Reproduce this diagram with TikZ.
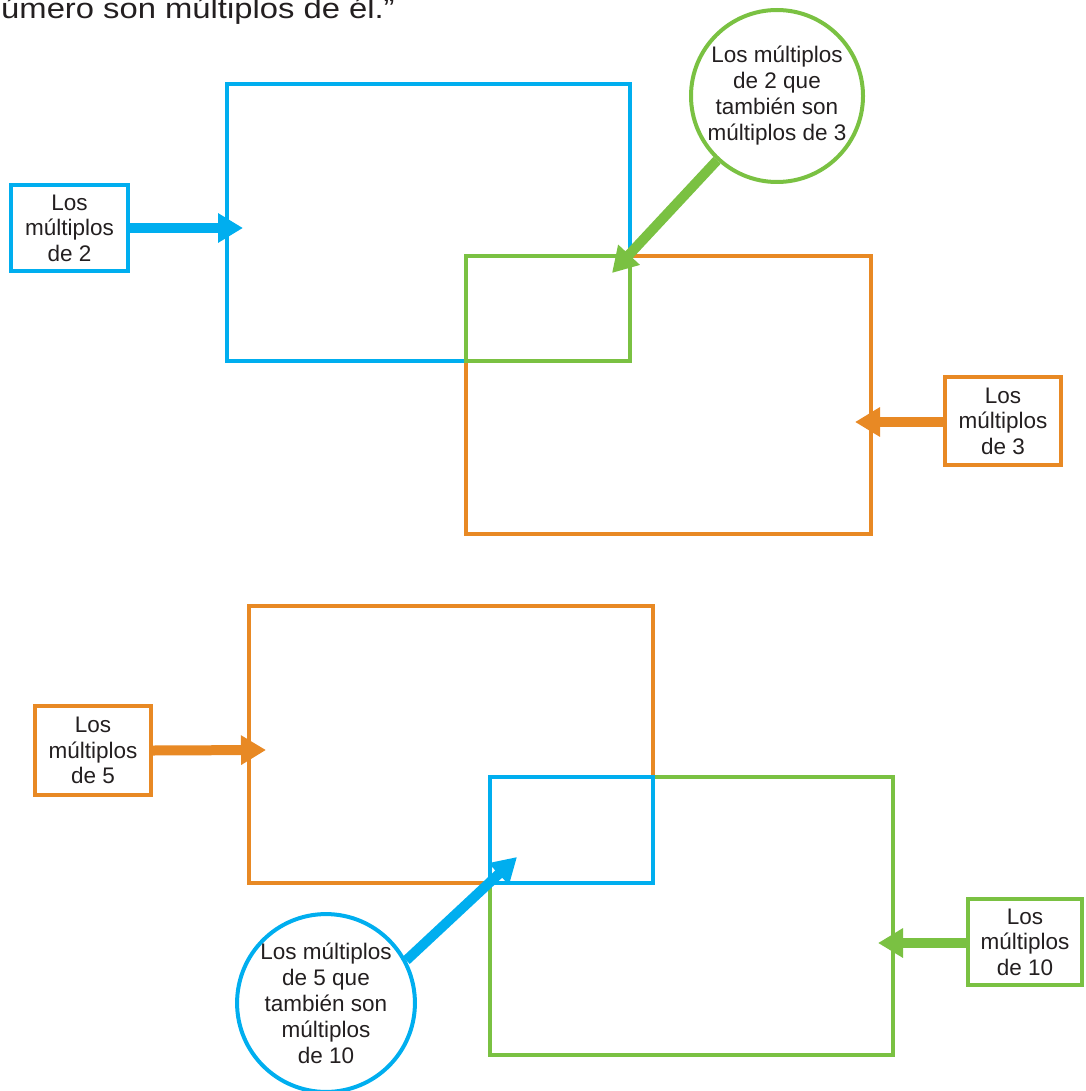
\documentclass[tikz,border=0pt]{standalone}
\usepackage{fontspec}
\setmainfont{Liberation Sans}
\usetikzlibrary{arrows.meta}
\definecolor{cblue}{RGB}{0,174,239}
\definecolor{cgreen}{RGB}{122,193,66}
\definecolor{corange}{RGB}{232,137,36}
\definecolor{ctext}{RGB}{35,31,32}
\begin{document}
\begin{tikzpicture}[x=1pt,y=-1pt,
  bigrect/.style={line width=4pt},
  lbox/.style={draw=#1, line width=4pt, inner sep=0pt, align=center, text=ctext,
     font=\fontsize{22.5}{25.5}\selectfont},
  bubble/.style={draw=#1, circle, line width=4pt, inner sep=0pt, minimum size=172pt,
     align=center, text=ctext, font=\fontsize{22.5}{26}\selectfont},
  arr/.style={line width=10pt, -{Triangle[length=25pt,width=28pt]}}]
\useasboundingbox (0,0) rectangle (1085,1091);

% title fragment
\node[anchor=base west, inner sep=0pt, text=ctext, xscale=1.15, font=\fontsize{28.5}{34}\selectfont] (title) at (1,19) {úmero son múltiplos de él.”};

% ---------- top diagram ----------
\draw[bigrect, cblue] (227,84) rectangle (630,361);
\draw[bigrect, corange] (466,256) rectangle (871,534);
\draw[bigrect, cgreen] (466,256) rectangle (630,361);

\node[lbox=cblue, minimum width=117pt, minimum height=86pt] (b2) at (69.5,228) {Los\\múltiplos\\de 2};
\coordinate (t2) at (243,228);
\draw[arr, cblue] (b2.east) -- (t2);

\node[lbox=corange, minimum width=116pt, minimum height=88pt] (b3) at (1003,421) {Los\\múltiplos\\de 3};
\coordinate (t3) at (855,422);
\draw[arr, corange] (b3.west |- t3) -- (t3);

\node[bubble=cgreen] (gc) at (777,96) {Los múltiplos\\de 2 que\\también son\\múltiplos de 3};
\coordinate (gt) at (612,273);
\draw[arr, cgreen] (gc) -- (gt);

% ---------- bottom diagram ----------
\draw[bigrect, corange] (249,606) rectangle (653,883);
\draw[bigrect, cgreen] (490,777) rectangle (893,1055);
\draw[bigrect, cblue] (490,777) rectangle (653,883);

\node[lbox=corange, minimum width=116pt, minimum height=89pt] (b5) at (93,750.5) {Los\\múltiplos\\de 5};
\coordinate (t5) at (266,750);
\draw[arr, corange] (b5.east) -- (t5);

\node[lbox=cgreen, minimum width=114pt, minimum height=86pt] (b10) at (1025,942) {Los\\múltiplos\\de 10};
\coordinate (t10) at (878,943);
\draw[arr, cgreen] (b10.west |- t10) -- (t10);

\node[bubble=cblue] (bc) at (326,1003) {Los múltiplos\\de 5 que\\también son\\múltiplos\\de 10};
\coordinate (bt) at (517,857);
\draw[arr, cblue] (bc.28) -- (bt);
\end{tikzpicture}
\end{document}
